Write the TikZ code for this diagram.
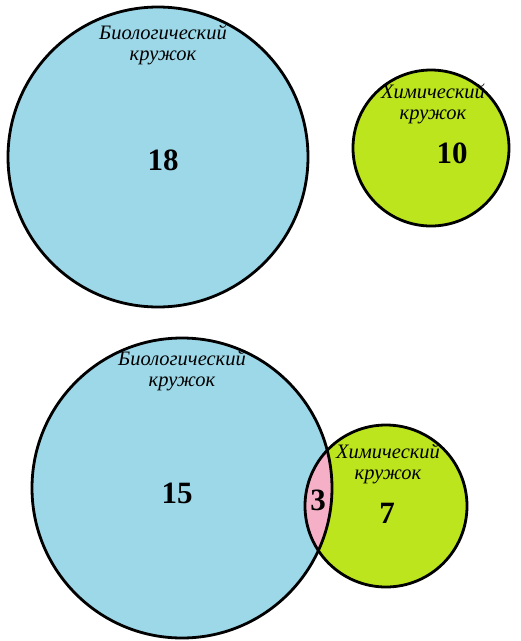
\documentclass[tikz,border=0pt]{standalone}
\usepackage{fontspec}
\setmainfont{Liberation Serif}
\definecolor{bioblue}{HTML}{9DD8E8}
\definecolor{chemgreen}{HTML}{BCE51E}
\definecolor{lenspink}{HTML}{F5B0C8}
\tikzset{
  ring/.style={circle, inner sep=0pt, line width=2.8pt},
  lbl/.style={font=\fontsize{20.5}{20.5}\selectfont\itshape, align=center, inner sep=0pt},
  num/.style={font=\fontsize{31}{31}\selectfont\bfseries, inner sep=0pt}
}
\begin{document}
\begin{tikzpicture}[x=1pt,y=-1pt]
\useasboundingbox (0,0) rectangle (521,641);
% top diagram
\node[ring, draw, fill=bioblue, minimum size=300pt] (bio1) at (158,157) {};
\node[ring, draw, fill=chemgreen, minimum size=156pt] (chem1) at (431,148) {};
\node[lbl] (bio1t) at (163,45) {Биологический\\кружок};
\node[num] (n18) at (163,160) {18};
\node[lbl] (chem1t) at (433,104) {Химический\\кружок};
\node[num] (n10) at (452,153) {10};
% bottom diagram
\node[ring, fill=bioblue, minimum size=300pt] (bio2) at (182,488) {};
\node[ring, fill=chemgreen, minimum size=162pt] (chem2) at (386,506) {};
\begin{scope}
  \clip (bio2.center) circle [radius=150pt];
  \fill[lenspink] (chem2.center) circle [radius=81pt];
\end{scope}
\draw[line width=2.8pt] (bio2.center) circle [radius=150pt];
\draw[line width=2.8pt] (chem2.center) circle [radius=81pt];
\node[lbl] (bio2t) at (182,371) {Биологический\\кружок};
\node[num] (n15) at (177,493) {15};
\node[lbl] (chem2t) at (388,464) {Химический\\кружок};
\node[num] (n3) at (318,500) {3};
\node[num] (n7) at (387,513) {7};
\end{tikzpicture}
\end{document}
